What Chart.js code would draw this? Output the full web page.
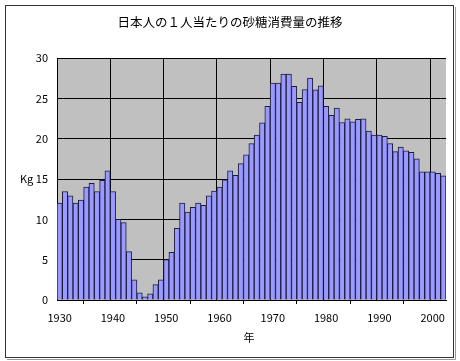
<!DOCTYPE html>
<html>
<head>
<meta charset="utf-8">
<script src="https://cdn.jsdelivr.net/npm/chart.js@4/dist/chart.umd.min.js"></script>
<style>
html,body{margin:0;padding:0;background:#fff;}
#wrap{width:460px;height:361px;position:relative;}
</style>
</head>
<body>
<div id="wrap"><canvas id="c" width="460" height="361"></canvas></div>
<script>
const chartTitle = "日本人の１人当たりの砂糖消費量の推移";
const yAxisTitle = "Kg";
const xAxisTitle = "年";
const years = ["1930","1931","1932","1933","1934","1935","1936","1937","1938","1939",
  "1940","1941","1942","1943","1944","1945","1946","1947","1948","1949",
  "1950","1951","1952","1953","1954","1955","1956","1957","1958","1959",
  "1960","1961","1962","1963","1964","1965","1966","1967","1968","1969",
  "1970","1971","1972","1973","1974","1975","1976","1977","1978","1979",
  "1980","1981","1982","1983","1984","1985","1986","1987","1988","1989",
  "1990","1991","1992","1993","1994","1995","1996","1997","1998","1999",
  "2000","2001","2002"];
const sugarKg = [12.0,13.45,12.9,12.0,12.4,14.0,14.45,13.45,14.85,16.0,
  13.45,10.0,9.6,6.0,2.5,0.9,0.4,0.75,1.9,2.5,
  5.0,5.9,8.9,12.0,10.9,11.5,12.0,11.75,12.9,13.5,
  14.0,14.9,16.0,15.45,16.9,18.0,19.4,20.45,21.95,24.0,
  26.9,26.9,28.0,28.0,26.5,24.5,26.1,27.5,26.05,26.55,
  24.0,22.9,23.8,22.0,22.45,22.1,22.4,22.45,20.95,20.45,
  20.45,20.3,19.4,18.4,18.95,18.5,18.3,17.5,15.9,15.9,
  15.9,15.7,15.4];
const xTickLabels = ["1930","1940","1950","1960","1970","1980","1990","2000"];
const yTickValues = [0,5,10,15,20,25,30];

const FONT = "'Noto Sans CJK JP', 'Liberation Sans', sans-serif";

const decor = {
  id: 'decor',
  beforeDraw(chart) {
    const ctx = chart.ctx, a = chart.chartArea;
    ctx.save();
    ctx.fillStyle = '#ffffff';
    ctx.fillRect(0, 0, chart.width, chart.height);
    ctx.fillStyle = '#c0c0c0';
    ctx.fillRect(a.left, a.top, a.right - a.left, a.bottom - a.top);
    ctx.restore();
  },
  afterDraw(chart) {
    const ctx = chart.ctx, a = chart.chartArea;
    ctx.save();
    ctx.strokeStyle = '#333333';
    ctx.lineWidth = 1;
    ctx.strokeRect(5.5, 5.5, 448, 352);
    ctx.strokeStyle = '#999999';
    ctx.beginPath();
    ctx.moveTo(455.5, 7); ctx.lineTo(455.5, 359.5); ctx.lineTo(7, 359.5);
    ctx.stroke();
    ctx.fillStyle = '#000';
    ctx.textAlign = 'center';
    ctx.textBaseline = 'middle';
    ctx.font = "12.5px " + FONT;
    ctx.fillText(chartTitle, 230, 22);
    ctx.font = "11px " + FONT;
    ctx.fillText(xAxisTitle, 249, 338);
    ctx.textAlign = 'left';
    const ys = chart.scales.y;
    ctx.fillText(yAxisTitle, 20, ys.getPixelForValue(15));
    ctx.restore();
  }
};

new Chart(document.getElementById('c'), {
  type: 'bar',
  data: {
    labels: years,
    datasets: [{
      data: sugarKg,
      backgroundColor: '#9999ff',
      borderColor: '#1c1c3c',
      borderWidth: 1,
      barPercentage: 1,
      categoryPercentage: 1
    }]
  },
  options: {
    responsive: false,
    animation: false,
    devicePixelRatio: 1,
    layout: { padding: { top: 58, left: 0, right: 14, bottom: 0 } },
    plugins: { legend: { display: false }, tooltip: { enabled: false }, title: { display: false } },
    scales: {
      x: {
        type: 'category',
        offset: true,
        afterFit(s) { s.height = 61; },
        grid: {
          offset: true,
          drawOnChartArea: true,
          drawTicks: true,
          tickLength: 4,
          color: (c) => (c.index % 10 === 0 && c.index > 0 && c.index < years.length) ? '#000000' : 'rgba(0,0,0,0)',
          tickColor: (c) => (c.index % 10 === 5) ? '#000000' : 'rgba(0,0,0,0)'
        },
        border: { display: true, color: '#000000' },
        ticks: {
          autoSkip: false,
          maxRotation: 0,
          minRotation: 0,
          padding: 7,
          color: '#000',
          font: { size: 11, family: FONT },
          callback(v, i) { const l = years[i]; return xTickLabels.includes(l) ? l : ''; }
        }
      },
      y: {
        min: 0,
        max: 30,
        afterFit(s) { s.width = 57; },
        afterBuildTicks(s) { s.ticks = yTickValues.map(v => ({ value: v })); },
        grid: { color: '#000000', drawTicks: false },
        border: { display: true, color: '#000000' },
        ticks: {
          padding: 9,
          color: '#000',
          font: { size: 11, family: FONT }
        }
      }
    }
  },
  plugins: [decor]
});
</script>
</body>
</html>
